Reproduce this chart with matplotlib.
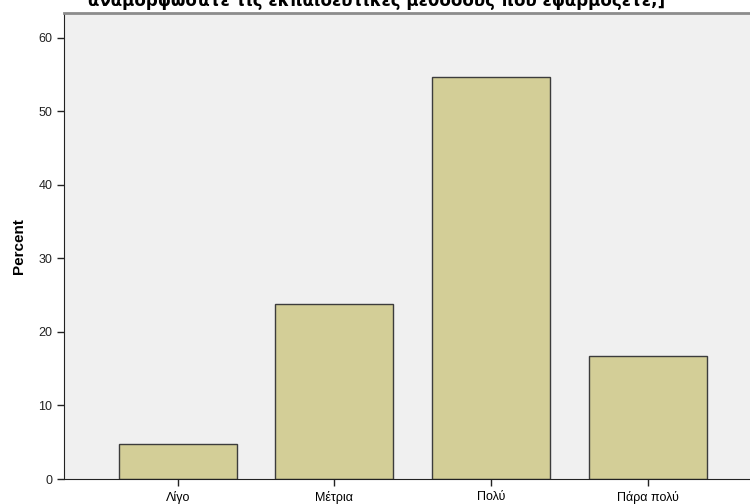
import matplotlib
matplotlib.use("Agg")
import matplotlib.pyplot as plt

categories = ["Λίγο", "Μέτρια", "Πολύ", "Πάρα πολύ"]
percent = [4.76, 23.81, 54.76, 16.67]
yticks = [0, 10, 20, 30, 40, 50, 60]
title = "αναμορφώσατε τις εκπαιδευτικές μεθόδους που εφαρμόζετε;]"

plt.rcParams["font.family"] = ["Liberation Sans", "DejaVu Sans"]

fig = plt.figure(figsize=(7.5, 5.04), dpi=100)
ax = fig.add_axes([64 / 750, 1 - 479 / 504, 697.5 / 750, 466 / 504])
ax.set_facecolor("#f0f0f0")

x = range(len(categories))
ax.bar(x, percent, width=0.754, color="#d3ce97", edgecolor="#3c3c3c", linewidth=1.0)

ax.set_xlim(-0.728, 3.728)
ax.set_ylim(0, 63.4)
ax.set_xticks(list(x))
ax.set_xticklabels(categories, fontsize=9)
ax.set_yticks(yticks)
ax.set_yticklabels([str(t) for t in yticks], fontsize=9, color="#222222")
ax.tick_params(axis="both", direction="out", length=5, width=1, color="#222222")
ax.set_ylabel("Percent", fontsize=11, fontweight="bold", labelpad=9)

ax.spines["right"].set_visible(False)
ax.spines["top"].set_color("#8c8c8c")
ax.spines["top"].set_linewidth(2)
ax.spines["left"].set_color("#222222")
ax.spines["bottom"].set_color("#222222")

# second line of the title; the first line falls above the picture
fig.text(377 / 750, 1 - 6 / 504, title, ha="center", va="baseline",
         fontsize=12, fontweight="bold", family="DejaVu Sans")

fig.savefig("out.png", dpi=100)
